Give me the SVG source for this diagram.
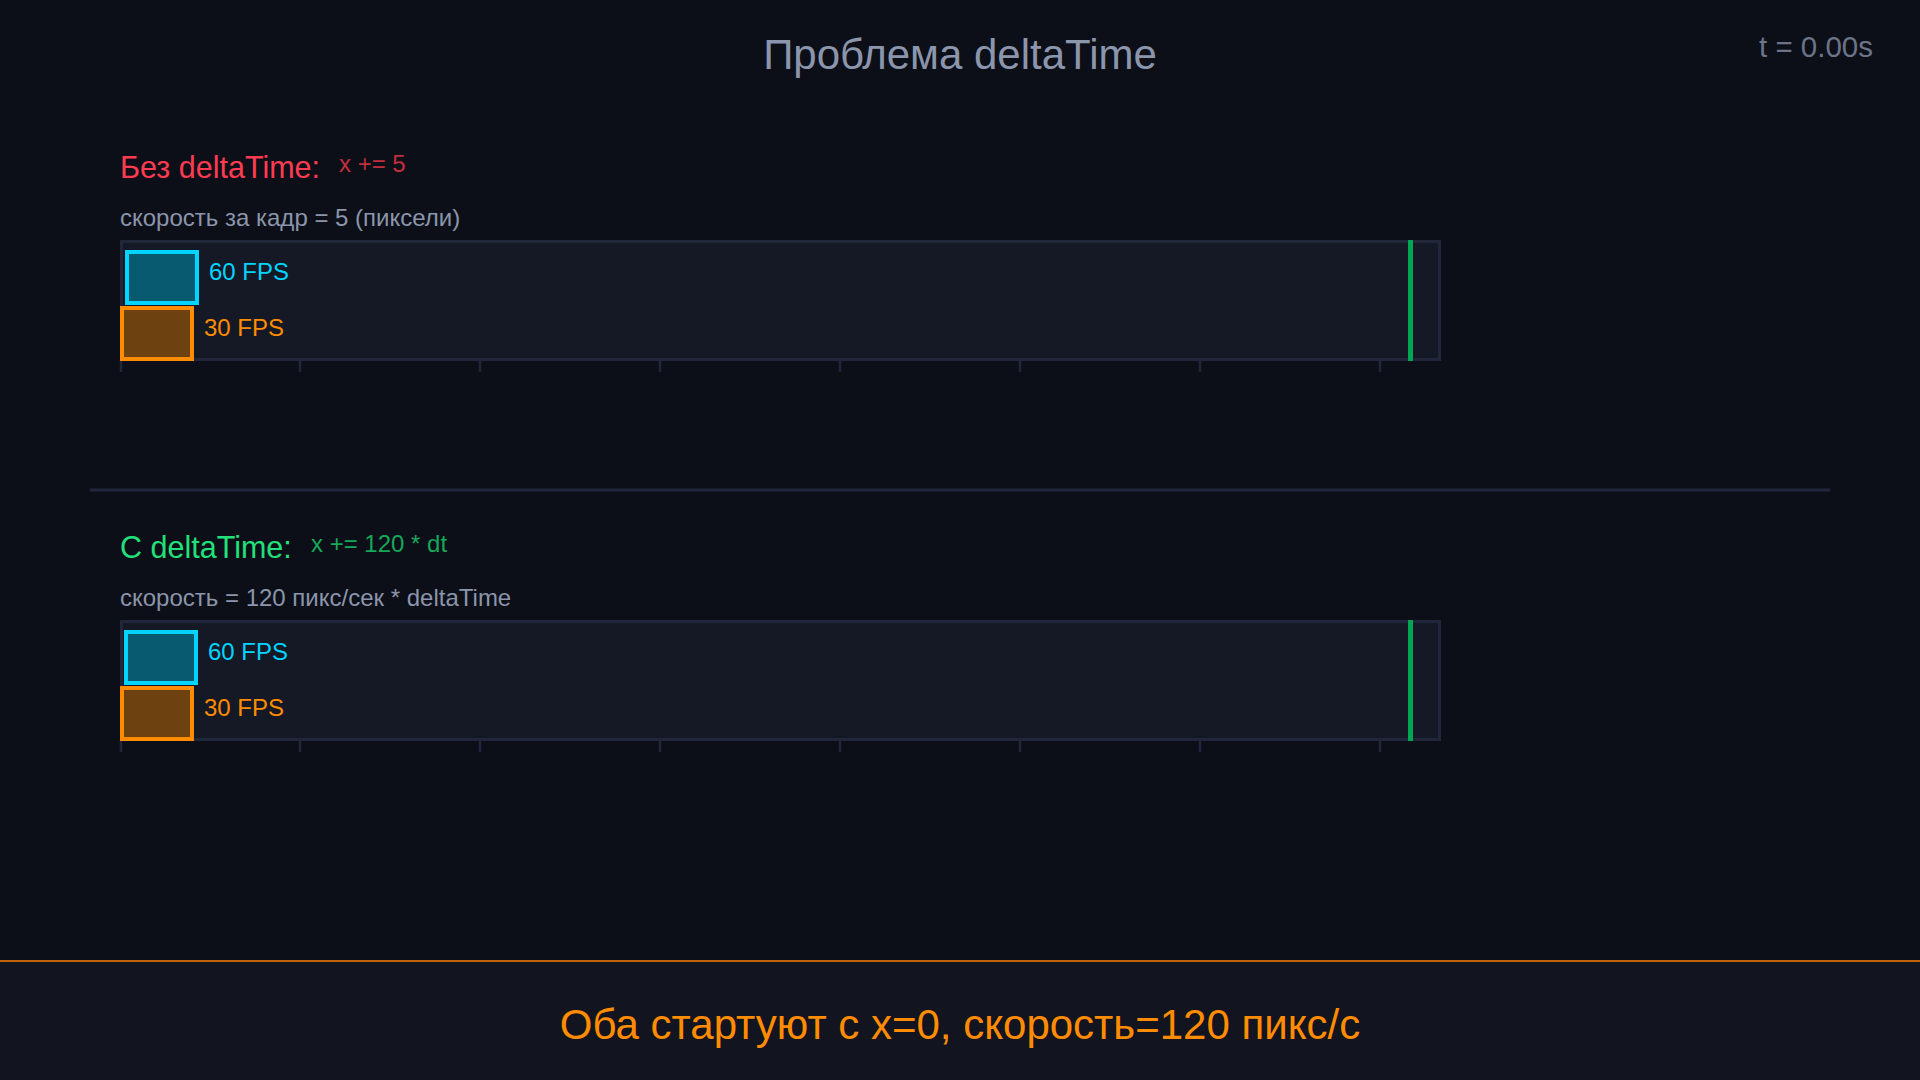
<svg xmlns="http://www.w3.org/2000/svg" width="1920" height="1080" viewBox="0 0 1920 1080">
<defs>
<style>
text{font-family:"Liberation Sans",Arial,sans-serif}
.track{fill:#151925;stroke:#22263a;stroke-width:3}
.tick{stroke:#22263a;stroke-width:2.5}
.goal{fill:#00a651}
.b60{fill:#075a70;stroke:#00d4ff;stroke-width:4}
.b30{fill:#6e4210;stroke:#ff8c00;stroke-width:4}
.l60{fill:#00d4ff;font-size:24px}
.l30{fill:#ff8c00;font-size:24px}
.sub{fill:#8b95ab;font-size:24px}
</style>
</defs>
<rect x="0" y="0" width="1920" height="1080" fill="#0c0f18"/>
<text x="960" y="69" text-anchor="middle" font-size="42" fill="#8b95ab">Проблема deltaTime</text>
<text x="1873" y="57" text-anchor="end" font-size="29.5" fill="#6b7488">t = 0.00s</text>

<g id="section-without">
<text x="120" y="178" font-size="30.5" fill="#ff3b52">Без deltaTime:</text>
<text x="339" y="172" font-size="24" fill="#c22e3e">x += 5</text>
<text x="120" y="226" class="sub">скорость за кадр = 5 (пиксели)</text>
<rect class="track" x="121.5" y="241.5" width="1318" height="118"/>
<g>
<line class="tick" x1="121" y1="361" x2="121" y2="372"/>
<line class="tick" x1="300" y1="361" x2="300" y2="372"/>
<line class="tick" x1="480" y1="361" x2="480" y2="372"/>
<line class="tick" x1="660" y1="361" x2="660" y2="372"/>
<line class="tick" x1="840" y1="361" x2="840" y2="372"/>
<line class="tick" x1="1020" y1="361" x2="1020" y2="372"/>
<line class="tick" x1="1200" y1="361" x2="1200" y2="372"/>
<line class="tick" x1="1380" y1="361" x2="1380" y2="372"/>
</g>
<rect class="goal" x="1408" y="240" width="5" height="121"/>
<g id="obj60-a"><rect class="b60" x="127" y="252" width="70" height="51"/><text class="l60" x="209" y="280">60 FPS</text></g>
<g id="obj30-a"><rect class="b30" x="122" y="308" width="70" height="51"/><text class="l30" x="204" y="336">30 FPS</text></g>
</g>

<line x1="90" y1="490" x2="1830" y2="490" stroke="#22263a" stroke-width="3"/>

<g id="section-with">
<text x="120" y="558" font-size="30.5" fill="#22e07a">С deltaTime:</text>
<text x="311" y="552" font-size="24" fill="#16a85a">x += 120 * dt</text>
<text x="120" y="606" class="sub">скорость = 120 пикс/сек * deltaTime</text>
<rect class="track" x="121.5" y="621.5" width="1318" height="118"/>
<g>
<line class="tick" x1="121" y1="741" x2="121" y2="752"/>
<line class="tick" x1="300" y1="741" x2="300" y2="752"/>
<line class="tick" x1="480" y1="741" x2="480" y2="752"/>
<line class="tick" x1="660" y1="741" x2="660" y2="752"/>
<line class="tick" x1="840" y1="741" x2="840" y2="752"/>
<line class="tick" x1="1020" y1="741" x2="1020" y2="752"/>
<line class="tick" x1="1200" y1="741" x2="1200" y2="752"/>
<line class="tick" x1="1380" y1="741" x2="1380" y2="752"/>
</g>
<rect class="goal" x="1408" y="620" width="5" height="121"/>
<g id="obj60-b"><rect class="b60" x="126" y="632" width="70" height="51"/><text class="l60" x="208" y="660">60 FPS</text></g>
<g id="obj30-b"><rect class="b30" x="122" y="688" width="70" height="51"/><text class="l30" x="204" y="716">30 FPS</text></g>
</g>

<g id="footer">
<rect x="0" y="961" width="1920" height="119" fill="#12141f"/>
<line x1="0" y1="961" x2="1920" y2="961" stroke="#c0620a" stroke-width="2"/>
<text x="960" y="1039" text-anchor="middle" font-size="42" fill="#ff8c00">Оба стартуют с x=0, скорость=120 пикс/с</text>
</g>
</svg>
